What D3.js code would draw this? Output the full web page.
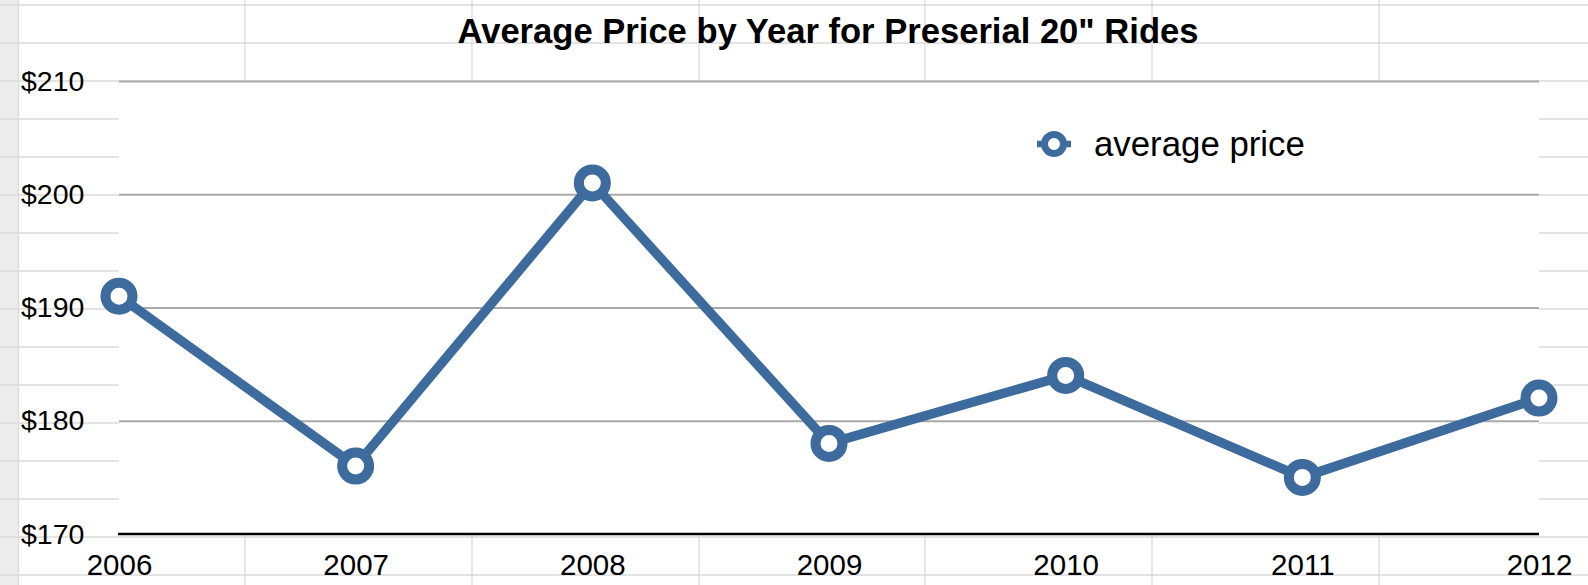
<!DOCTYPE html>
<html>
<head>
<meta charset="utf-8">
<script src="https://cdn.jsdelivr.net/npm/d3@7"></script>
<style>
  html, body { margin: 0; padding: 0; background: #fff; }
  svg { display: block; font-family: "Liberation Sans", Arial, Helvetica, sans-serif; }
</style>
</head>
<body>
<svg id="chart" width="1588" height="585"></svg>
<script>
// ---- data ----
const years = ["2006", "2007", "2008", "2009", "2010", "2011", "2012"];
const prices = [191, 176, 201, 178, 184, 175, 182];
const yTicks = [170, 180, 190, 200, 210];
const seriesName = "average price";
const chartTitle = 'Average Price by Year for Preserial 20" Rides';

// ---- layout ----
const W = 1588, H = 585;
const plot = { left: 119, right: 1539, top: 81, bottom: 534 };
const lineColor = "#3d6b9e";

const svg = d3.select("#chart");

// spreadsheet background
const bg = svg.append("g");
bg.append("rect").attr("x", 0).attr("y", 0).attr("width", 18).attr("height", H).attr("fill", "#ececec");
d3.range(5, H, 38).forEach(yy => {
  bg.append("line").attr("x1", 0).attr("x2", W).attr("y1", yy).attr("y2", yy)
    .attr("stroke", "#dadada").attr("stroke-width", 1.3);
});
[18.5, 245, 472, 699, 925, 1152, 1379].forEach(xx => {
  bg.append("line").attr("x1", xx).attr("x2", xx).attr("y1", 0).attr("y2", H)
    .attr("stroke", "#dadada").attr("stroke-width", 1.3);
});

// white plot area
svg.append("rect")
  .attr("x", plot.left).attr("y", plot.top)
  .attr("width", plot.right - plot.left).attr("height", plot.bottom - plot.top)
  .attr("fill", "#fff");

// scales
const x = d3.scalePoint().domain(years).range([plot.left, plot.right]);
const y = d3.scaleLinear().domain([170, 210]).range([plot.bottom, plot.top]);

// gridlines
const grid = svg.append("g")
  .attr("transform", `translate(${plot.left},0)`)
  .call(d3.axisLeft(y).tickValues(yTicks.filter(t => t !== 170)).tickSize(-(plot.right - plot.left)).tickFormat(""));
grid.select(".domain").remove();
grid.selectAll(".tick line").attr("stroke", "#a9a9a9").attr("stroke-width", 2.2);

// baseline axis line
svg.append("line")
  .attr("x1", plot.left - 1).attr("x2", plot.right)
  .attr("y1", y(170)).attr("y2", y(170))
  .attr("stroke", "#000").attr("stroke-width", 2.4);

// y axis labels
const yAxis = svg.append("g")
  .attr("transform", "translate(21,0)")
  .call(d3.axisRight(y).tickValues(yTicks).tickSize(0).tickPadding(0).tickFormat(d => "$" + d));
yAxis.select(".domain").remove();
yAxis.selectAll("text").attr("font-size", 28.5).attr("fill", "#000")
  .attr("font-family", '"Liberation Sans", Arial, sans-serif');

// x axis labels
const xAxis = svg.append("g")
  .attr("transform", `translate(0,${plot.bottom})`)
  .call(d3.axisBottom(x).tickSize(0).tickPadding(20.5));
xAxis.select(".domain").remove();
xAxis.selectAll("text").attr("font-size", 29.5).attr("fill", "#000")
  .attr("font-family", '"Liberation Sans", Arial, sans-serif');

// line
const line = d3.line().x((d, i) => x(years[i])).y(d => y(d));
svg.append("path")
  .datum(prices)
  .attr("d", line)
  .attr("fill", "none")
  .attr("stroke", lineColor)
  .attr("stroke-width", 9.5)
  .attr("stroke-linejoin", "round");

// markers
svg.append("g").selectAll("circle")
  .data(prices)
  .join("circle")
  .attr("cx", (d, i) => x(years[i]))
  .attr("cy", d => y(d))
  .attr("r", 13.5)
  .attr("fill", "#fff")
  .attr("stroke", lineColor)
  .attr("stroke-width", 10);

// legend
const lg = svg.append("g").attr("transform", "translate(1054,144)");
lg.append("line").attr("x1", -17).attr("x2", 17).attr("y1", 0).attr("y2", 0)
  .attr("stroke", lineColor).attr("stroke-width", 6.5);
lg.append("circle").attr("r", 9.5).attr("fill", "#fff")
  .attr("stroke", lineColor).attr("stroke-width", 7);
lg.append("text").attr("x", 40).attr("y", 11.5)
  .attr("font-size", 34.8).attr("fill", "#000").text(seriesName);

// title
svg.append("text")
  .attr("x", 828).attr("y", 43)
  .attr("text-anchor", "middle")
  .attr("font-size", 34.6)
  .attr("font-weight", "bold")
  .attr("fill", "#000")
  .text(chartTitle);
</script>
</body>
</html>
